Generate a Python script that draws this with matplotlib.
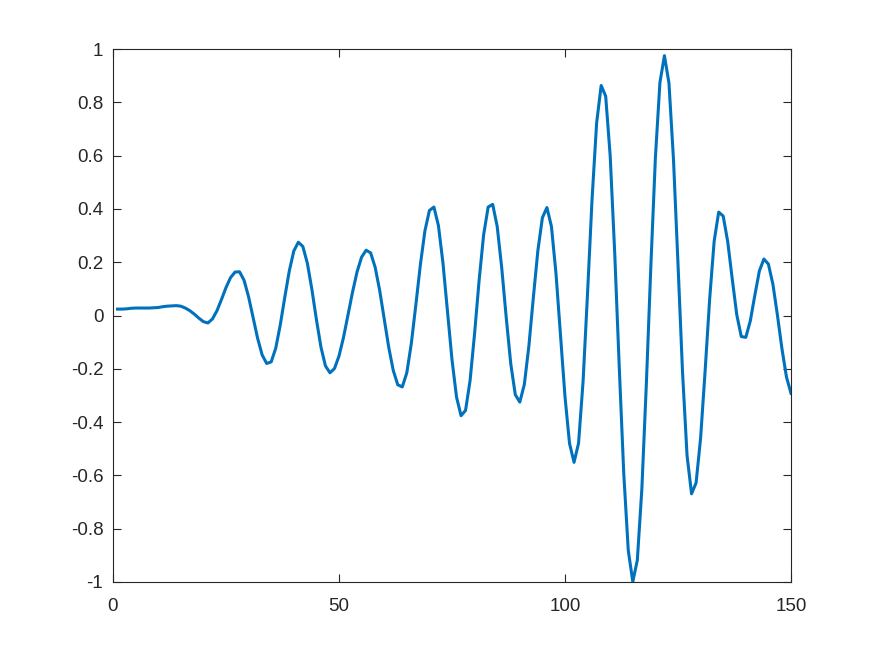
import numpy as np
import matplotlib
matplotlib.use('Agg')
import matplotlib.pyplot as plt

# Sample index and signal values
x = np.arange(1, 151)
y = [
    0.024, 0.024, 0.025, 0.027, 0.028, 0.028, 0.028, 0.028, 0.029, 0.030,
    0.033, 0.035, 0.036, 0.037, 0.035, 0.028, 0.018, 0.005, -0.010, -0.023,
    -0.028, -0.013, 0.018, 0.060, 0.105, 0.142, 0.163, 0.164, 0.132, 0.070,
    -0.008, -0.086, -0.148, -0.180, -0.174, -0.123, -0.036, 0.068, 0.167, 0.242,
    0.275, 0.259, 0.196, 0.098, -0.015, -0.118, -0.189, -0.215, -0.199, -0.152,
    -0.082, 0.002, 0.088, 0.164, 0.219, 0.245, 0.235, 0.181, 0.094, -0.012,
    -0.119, -0.206, -0.260, -0.268, -0.215, -0.105, 0.040, 0.190, 0.317, 0.394,
    0.407, 0.337, 0.197, 0.016, -0.166, -0.306, -0.376, -0.356, -0.244, -0.067,
    0.132, 0.303, 0.407, 0.417, 0.334, 0.179, -0.008, -0.181, -0.297, -0.325,
    -0.259, -0.116, 0.068, 0.244, 0.367, 0.405, 0.334, 0.159, -0.073, -0.305,
    -0.480, -0.551, -0.479, -0.247, 0.088, 0.441, 0.723, 0.863, 0.823, 0.598,
    0.234, -0.192, -0.593, -0.882, -0.999, -0.918, -0.652, -0.256, 0.188, 0.593,
    0.874, 0.975, 0.872, 0.586, 0.193, -0.212, -0.525, -0.669, -0.628, -0.460,
    -0.208, 0.061, 0.279, 0.388, 0.373, 0.277, 0.137, 0.003, -0.079, -0.082,
    -0.020, 0.076, 0.167, 0.212, 0.193, 0.117, 0.001, -0.125, -0.231, -0.292,
]

x_ticks = [0, 50, 100, 150]
y_ticks = [-1, -0.8, -0.6, -0.4, -0.2, 0, 0.2, 0.4, 0.6, 0.8, 1]
y_labels = ['-1', '-0.8', '-0.6', '-0.4', '-0.2', '0', '0.2', '0.4', '0.6', '0.8', '1']

plt.rcParams['font.family'] = ['Liberation Sans', 'DejaVu Sans']
plt.rcParams['axes.unicode_minus'] = False

fig = plt.figure(figsize=(8.75, 6.56), dpi=100)
ax = fig.add_axes([113 / 875, 1 - 582 / 656, (791 - 113) / 875, (582 - 49) / 656])

ax.plot(x, y, color='#0072BD', linewidth=2.2)

ax.set_xlim(0, 150)
ax.set_ylim(-1, 1)
ax.set_xticks(x_ticks)
ax.set_xticklabels([str(t) for t in x_ticks])
ax.set_yticks(y_ticks)
ax.set_yticklabels(y_labels)

ax.tick_params(direction='in', length=6, width=0.8, colors='#262626',
               labelsize=13.5, top=True, right=True)
ax.tick_params(axis='x', pad=11.5)
ax.tick_params(axis='y', pad=7)
for s in ax.spines.values():
    s.set_color('#262626')
    s.set_linewidth(0.8)

fig.savefig('out.png', dpi=100, facecolor='white')
